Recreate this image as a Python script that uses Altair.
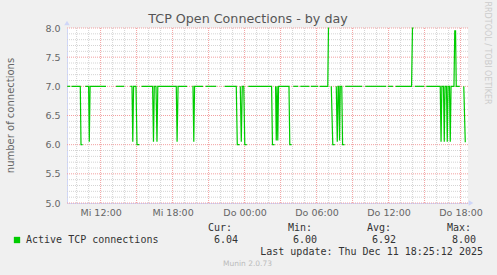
import altair as alt
import pandas as pd

# ---- data (hours since Wed 00:00; None = gap in data) ----
times = [
    9.225, 9.475, None,
    9.583, 10.308, 10.367, 10.5, None,
    10.725, 11.0, 11.058, 11.125, 12.45, None,
    13.283, 13.975, None,
    14.475, 14.617, 14.683, 14.75, 14.95, 15.033, 15.225, None,
    15.417, 16.333, 16.408, 16.475, 16.617, 16.7, 16.767, 18.308, 18.375, 18.458, 19.2, None,
    19.642, 19.7, 19.767, 19.833, 20.533, None,
    20.75, 21.642, None,
    22.333, 23.308, 23.392, 23.583, None,
    23.642, 23.725, 23.808, 23.933, 24.017, 24.183, None,
    24.308, 26.25, 26.325, 26.5, None,
    26.583, 26.642, 26.708, 26.767, 26.833, 27.7, 27.767, 27.917, None,
    28.058, 28.475, None,
    28.642, 29.392, None,
    29.517, 30.142, None,
    30.267, 30.933, 30.992, 31.042, None,
    31.225, 31.35, 31.517, None,
    31.642, 31.725, 31.792, 31.85, 31.917, 31.975, 32.1, 32.167, 32.333, None,
    32.392, 33.808, None,
    34.058, 35.808, None,
    35.95, 36.367, None,
    36.583, 37.917, 37.992, 38.075, None,
    38.183, 38.975, None,
    39.142, 40.308, 40.375, 40.442, 40.575, 40.642, 40.708, 40.825, 40.892, 40.958,
    41.075, 41.142, 41.208, 41.45, 41.517, 41.583, 41.642, 41.933, None,
    42.267, 42.392,
]
values = [
    7, 7, None,
    7, 7, 6.0, 6.0, None,
    7, 7, 6.05, 7, 7, None,
    7, 7, None,
    7, 7, 6.05, 7, 7, 6.0, 6.0, None,
    7, 7, 6.05, 7, 7, 6.05, 7, 7, 6.05, 7, 7, None,
    7, 7, 6.05, 7, 7, None,
    7, 7, None,
    7, 7, 6.0, 6.0, None,
    7, 6.05, 7, 7, 6.0, 6.0, None,
    7, 7, 6.0, 6.0, None,
    7, 6.07, 7, 6.07, 7, 7, 6.0, 6.0, None,
    7, 7, None,
    7, 7, None,
    7, 7, None,
    7, 7, 8.0, 8.0, None,
    7, 6.0, 6.0, None,
    7, 6.05, 7, 7, 6.07, 7, 7, 6.0, 6.0, None,
    7, 7, None,
    7, 7, None,
    7, 7, None,
    7, 7, 8.0, 8.0, None,
    7, 7, None,
    7, 7, 6.05, 7, 7, 6.05, 7, 7, 6.05, 7,
    7, 6.05, 7, 7, 7.95, 7.95, 7, 7, None,
    7, 6.04,
]

series_name = "Active TCP connections"
stat_labels = ["Cur:", "Min:", "Avg:", "Max:"]
stat_values = ["6.04", "6.00", "6.92", "8.00"]
last_update = "Last update: Thu Dec 11 18:25:12 2025"
title_text = "TCP Open Connections - by day"
y_title = "number of connections"
x_tick_hours = [12, 18, 24, 30, 36, 42]
x_tick_labels = ["Mi 12:00", "Mi 18:00", "Do 00:00", "Do 06:00", "Do 12:00", "Do 18:00"]
y_ticks = [5.0, 5.5, 6.0, 6.5, 7.0, 7.5, 8.0]
x_domain = [9.2, 42.62]
y_domain = [5.0, 8.0]

# ---- build tables ----
rows = []
seg = 0
for t, v in zip(times, values):
    if t is None:
        seg += 1
        continue
    rows.append({"h": t, "v": v, "seg": seg})
line_df = pd.DataFrame(rows)

x_major = list(range(12, 43, 3))
x_minor = [h for h in range(10, 43) if h % 3 != 0]
y_major = y_ticks
y_minor = [round(5.0 + i / 10, 1) for i in range(1, 30) if i % 5 != 0]

W, H = 401, 175
GREEN = "#00CC00"
FONT = "#666666"
AXISC = "#CFD6F8"

label_expr = ""
for h, lab in zip(x_tick_hours, x_tick_labels):
    label_expr += f"datum.value == {h} ? '{lab}' : "
label_expr += "''"

x_scale = alt.Scale(domain=x_domain, nice=False, zero=False)
y_scale = alt.Scale(domain=y_domain, nice=False, zero=False)
x_axis = alt.Axis(values=x_tick_hours, labelExpr=label_expr, grid=False, ticks=False,
                  domainColor=AXISC, labelColor=FONT, labelFont="DejaVu Sans",
                  labelFontSize=9.5, labelPadding=4, title=None, labelFlush=False)
y_axis = alt.Axis(values=y_ticks, format=".1f", grid=False, ticks=False,
                  domainColor=AXISC, labelColor=FONT, labelFont="DejaVu Sans",
                  labelFontSize=9.5, labelPadding=7, title=None)

xq = lambda f: alt.X(f, type="quantitative", scale=x_scale, axis=x_axis)
yq = lambda f: alt.Y(f, type="quantitative", scale=y_scale, axis=y_axis)

vminor = alt.Chart(pd.DataFrame({"h": x_minor})).mark_rule(
    color="#d4d4d4", strokeDash=[1, 1], strokeWidth=1).encode(x=xq("h"))
hminor = alt.Chart(pd.DataFrame({"v": y_minor})).mark_rule(
    color="#d4d4d4", strokeDash=[1, 1], strokeWidth=1).encode(y=yq("v"))
vmajor = alt.Chart(pd.DataFrame({"h": x_major})).mark_rule(
    color="#f2a0a0", strokeDash=[1, 1], strokeWidth=1).encode(x=xq("h"))
hmajor = alt.Chart(pd.DataFrame({"v": y_major})).mark_rule(
    color="#f2a0a0", strokeDash=[1, 1], strokeWidth=1).encode(y=yq("v"))

line = alt.Chart(line_df).mark_line(color=GREEN, strokeWidth=1.2).encode(
    x=xq("h"), y=yq("v"), detail="seg:N")

arrow_up = alt.Chart(pd.DataFrame({"h": [x_domain[0]], "v": [y_domain[1]]})).mark_point(
    shape="triangle-up", filled=True, color=AXISC, size=30, opacity=1, yOffset=-5
).encode(x=xq("h"), y=yq("v"))
arrow_right = alt.Chart(pd.DataFrame({"h": [x_domain[1]], "v": [y_domain[0]]})).mark_point(
    shape="triangle-right", filled=True, color=AXISC, size=30, opacity=1, xOffset=3
).encode(x=xq("h"), y=yq("v"))

def txt(text, x, y, size=10, font="DejaVu Sans", color=FONT, align="left", angle=0):
    return alt.Chart(pd.DataFrame({"t": [text]})).mark_text(
        font=font, fontSize=size, color=color, align=align, baseline="middle", angle=angle
    ).encode(text="t:N", x=alt.value(x), y=alt.value(y))

texts = [
    txt(title_text, 181, -9, size=12.7, align="center", color="#555555"),
    txt(y_title, -56, 87.5, size=10, align="center", angle=270),
    txt("RRDTOOL / TOBI OETIKER", 419.7, 25, size=8, color="#cccccc", align="center", angle=90),
    txt(series_name, -41, 212, font="DejaVu Sans Mono", size=10, color="#333333"),
    txt(last_update, 416, 223.5, font="DejaVu Sans Mono", size=10, color="#333333", align="right"),
    txt("Munin 2.0.73", 180.5, 236, size=7.5, color="#bbbbbb", align="center"),
]
hdr_x = [141, 221, 300, 380]
val_x = [147, 226, 305, 385]
for lab, val, hx, vx in zip(stat_labels, stat_values, hdr_x, val_x):
    texts.append(txt(lab, hx, 199.7, font="DejaVu Sans Mono", size=10, color="#333333"))
    texts.append(txt(val, vx, 212, font="DejaVu Sans Mono", size=10, color="#333333"))

legend_sq = alt.Chart(pd.DataFrame({"k": [series_name]})).mark_square(
    color=GREEN, size=40, opacity=1, filled=True
).encode(x=alt.value(-50), y=alt.value(212))

chart = alt.layer(
    vminor, hminor, vmajor, hmajor, line, arrow_up, arrow_right, legend_sq, *texts
).properties(
    width=W, height=H,
    padding={"left": 67, "top": 28, "right": 29, "bottom": 72},
    autosize=alt.AutoSizeParams(type="none"),
    background="#f0f0f0",
).configure_view(fill="white", strokeWidth=0)

chart.save("out.html", embed_options={"renderer": "svg", "actions": False})
